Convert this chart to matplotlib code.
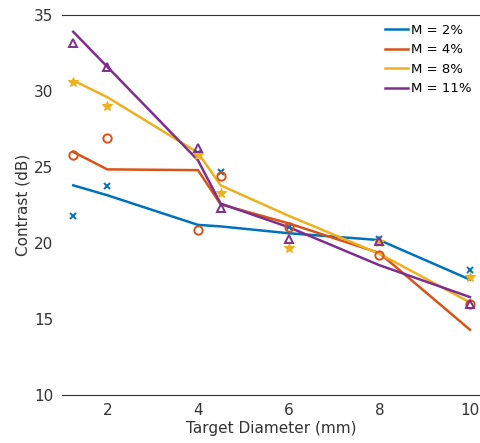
import matplotlib
matplotlib.use("Agg")
import matplotlib.pyplot as plt
import numpy as np

# target diameters (mm)
diam = [1.25, 2, 4, 4.5, 6, 8, 10]
labels = ['M = 2%', 'M = 4%', 'M = 8%', 'M = 11%']

# measured contrast (dB)
meas_2 = [21.8, 23.75, 25.9, 24.7, 21.05, 20.3, 18.2]
meas_4 = [25.8, 26.9, 20.85, 24.4, 21.05, 19.2, 16.0]
meas_8 = [30.6, 29.0, 25.8, 23.3, 19.65, 20.05, 17.75]
meas_11 = [33.15, 31.6, 26.25, 22.3, 20.25, 20.15, 16.0]

# fitted curves (dB)
fit_2 = [23.8, 23.15, 21.2, 21.1, 20.65, 20.2, 17.6]
fit_4 = [26.0, 24.85, 24.8, 22.55, 21.3, 19.35, 14.3]
fit_8 = [30.7, 29.6, 25.95, 23.8, 21.8, 19.3, 16.1]
fit_11 = [33.9, 31.6, 25.45, 22.6, 21.05, 18.55, 16.45]

colors = ['#0072BD', '#D95319', '#EDB120', '#7E2F8E']
markers = ['x', 'o', '*', '^']

fig = plt.figure(figsize=(4.8, 4.43), dpi=100)
ax = fig.add_axes([0.129, 0.108, 0.871, 0.858])

meas = [meas_2, meas_4, meas_8, meas_11]
fits = [fit_2, fit_4, fit_8, fit_11]
for i in range(4):
    ax.plot(diam, fits[i], color=colors[i], lw=1.8, label=labels[i])
for i in range(4):
    if markers[i] == 'x':
        ax.plot(diam, meas[i], ls='none', marker='x', ms=5, mew=1.4, color=colors[i])
    elif markers[i] == '*':
        ax.plot(diam, meas[i], ls='none', marker='*', ms=7.5, mew=0.8, color=colors[i])
    else:
        ax.plot(diam, meas[i], ls='none', marker=markers[i], ms=6, mew=1.4,
                mfc='none', color=colors[i])

ax.set_xlim(1.0, 10.22)
ax.set_ylim(10, 35)
ax.set_xticks([2, 4, 6, 8, 10])
ax.set_yticks([10, 15, 20, 25, 30, 35])
ax.tick_params(length=0, labelsize=11, colors='#333333', pad=6)
ax.spines['left'].set_visible(False)
ax.spines['right'].set_visible(False)
ax.spines['top'].set_color('#333333')
ax.spines['bottom'].set_color('#333333')
ax.set_xlabel('Target Diameter (mm)', fontsize=11, color='#333333', labelpad=2)
ax.set_ylabel('Contrast (dB)', fontsize=11, color='#333333', labelpad=3)
ax.legend(loc='upper right', frameon=False, fontsize=9.5, handlelength=1.8,
          handletextpad=0.2, labelspacing=0.5, borderaxespad=0.25)

fig.savefig('out.png', dpi=100)
